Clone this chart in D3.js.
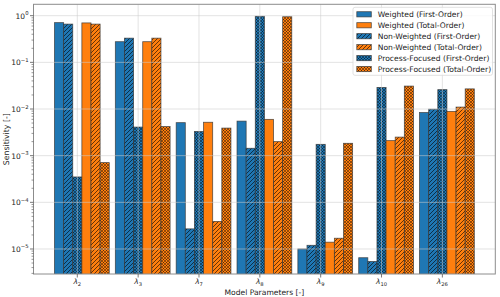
<!DOCTYPE html>
<html><head><meta charset="utf-8">
<script src="https://cdn.jsdelivr.net/npm/d3@7"></script>
<style>body{margin:0;background:#fff}svg{display:block;font-family:"DejaVu Sans",sans-serif}</style>
</head><body><svg id="c" width="500" height="297"></svg>
<script>
const categories = ["2","3","7","8","9","10","26"];
const seriesNames = ["Weighted (First-Order)","Non-Weighted (First-Order)","Process-Focused (First-Order)","Weighted (Total-Order)","Non-Weighted (Total-Order)","Process-Focused (Total-Order)"];
const legendOrder = [0,3,1,4,2,5];
const weightedFO    = [0.71, 0.277, 0.0051, 0.0055, 1.0e-5, 6.5e-6, 0.0084];
const nonWeightedFO = [0.66, 0.33, 2.7e-5, 0.00144, 1.2e-5, 5.4e-6, 0.0099];
const processFO     = [3.5e-4, 0.0041, 0.0033, 0.97, 0.00175, 0.029, 0.026];
const weightedTO    = [0.70, 0.277, 0.0052, 0.006, 1.4e-5, 0.0021, 0.0089];
const nonWeightedTO = [0.66, 0.33, 3.9e-5, 0.002, 1.7e-5, 0.0025, 0.011];
const processTO     = [7.1e-4, 0.0042, 0.0039, 0.95, 0.00184, 0.031, 0.027];
const yTicks = [0,-1,-2,-3,-4,-5];
const series = [weightedFO, nonWeightedFO, processFO, weightedTO, nonWeightedTO, processTO];
const colors = ["#1f77b4","#1f77b4","#1f77b4","#ff7f0e","#ff7f0e","#ff7f0e"];
const hatches = [null,"diag","cross",null,"diag","cross"];

const svg = d3.select("#c");
const L=33.5,R=495.3,T=4.3,B=274;
const bw=0.15;
const x = d3.scaleLinear().domain([-0.72,6.87]).range([L,R]);
const y = d3.scaleLog().domain([Math.pow(10,-5.536),Math.pow(10,0.244)]).range([B,T]);

const defs = svg.append("defs");
["#1f77b4","#ff7f0e"].forEach((c,ci)=>{
  const p1 = defs.append("pattern").attr("id","diag"+ci).attr("patternUnits","userSpaceOnUse").attr("width",4).attr("height",4);
  p1.append("rect").attr("width",4).attr("height",4).attr("fill",c);
  p1.append("path").attr("d","M-1,1 l2,-2 M0,4 l4,-4 M3,5 l2,-2").attr("stroke","#000").attr("stroke-opacity",0.75).attr("stroke-width",0.8);
  const p2 = defs.append("pattern").attr("id","cross"+ci).attr("patternUnits","userSpaceOnUse").attr("width",3).attr("height",3);
  p2.append("rect").attr("width",3).attr("height",3).attr("fill",c);
  p2.append("path").attr("d","M0,0 l3,3 M3,0 l-3,3").attr("stroke","#000").attr("stroke-opacity",0.6).attr("stroke-width",0.7);
});
function fillFor(i){const ci=i<3?0:1; return hatches[i]?`url(#${hatches[i]}${ci})`:colors[i];}

svg.append("defs").append("clipPath").attr("id","clip").append("rect").attr("x",L).attr("y",T).attr("width",R-L).attr("height",B-T);

const g = svg.append("g").attr("clip-path","url(#clip)");
series.forEach((vals,si)=>{
  g.selectAll(null).data(vals).enter().append("rect")
   .attr("x",(d,i)=>x(i+(si-2.5)*bw))
   .attr("width",x(bw)-x(0))
   .attr("y",d=>y(d))
   .attr("height",d=>B+2-y(d))
   .attr("fill",fillFor(si))
   .attr("stroke","#333").attr("stroke-opacity",0.8).attr("stroke-width",0.8);
});

// grid (on top, light)
const grid = svg.append("g");
yTicks.forEach(e=>{
  grid.append("line").attr("x1",L).attr("x2",R).attr("y1",y(Math.pow(10,e))).attr("y2",y(Math.pow(10,e)))
   .attr("stroke","#cccccc").attr("stroke-opacity",0.55).attr("stroke-width",1);
});
categories.forEach((c,i)=>{
  grid.append("line").attr("x1",x(i)).attr("x2",x(i)).attr("y1",T).attr("y2",B)
   .attr("stroke","#cccccc").attr("stroke-opacity",0.55).attr("stroke-width",1);
});

// frame
svg.append("rect").attr("x",L).attr("y",T).attr("width",R-L).attr("height",B-T).attr("fill","none").attr("stroke","#8c8c8c").attr("stroke-width",1);

// y ticks
const ya = svg.append("g");
for(let e=-6;e<=0;e++){
  for(let m=2;m<10;m++){
    const v=m*Math.pow(10,e);
    if(v<y.domain()[0]||v>y.domain()[1]) continue;
    ya.append("line").attr("x1",L-2).attr("x2",L).attr("y1",y(v)).attr("y2",y(v)).attr("stroke","#555").attr("stroke-width",0.6);
  }
}
yTicks.forEach(e=>{
  const yy=y(Math.pow(10,e));
  ya.append("line").attr("x1",L-3.5).attr("x2",L).attr("y1",yy).attr("y2",yy).attr("stroke","#555").attr("stroke-width",0.8);
  const t=ya.append("text").attr("x",L-5).attr("y",yy+3).attr("text-anchor","end").attr("font-size",7.5).attr("fill","#222");
  t.append("tspan").text("10");
  t.append("tspan").attr("dy",-3.5).attr("font-size",5.3).text(e===0?"0":"\u2212"+(-e));
});
svg.append("text").attr("transform",`translate(9,${(T+B)/2}) rotate(-90)`).attr("text-anchor","middle").attr("font-size",7.8).attr("fill","#222").text("Sensitivity [-]");

// x ticks
categories.forEach((c,i)=>{
  svg.append("line").attr("x1",x(i)).attr("x2",x(i)).attr("y1",B).attr("y2",B+3.5).attr("stroke","#555").attr("stroke-width",0.8);
  const t=svg.append("text").attr("x",x(i)).attr("y",B+10).attr("text-anchor","middle").attr("font-size",7.4).attr("fill","#222");
  t.append("tspan").attr("font-style","italic").text("\u03bb");
  t.append("tspan").attr("dy",1.5).attr("font-size",5.2).text(c);
});
svg.append("text").attr("x",(L+R)/2).attr("y",294.5).attr("text-anchor","middle").attr("font-size",7.6).attr("fill","#222").text("Model Parameters [-]");

// legend
const lg = svg.append("g");
lg.append("rect").attr("x",353).attr("y",7.3).attr("width",139.5).attr("height",68).attr("rx",2)
  .attr("fill","#fff").attr("fill-opacity",0.8).attr("stroke","#d9d9d9").attr("stroke-width",0.8);
legendOrder.forEach((si,k)=>{
  const yy=14.3+k*10.95;
  lg.append("rect").attr("x",356.8).attr("y",yy-2.6).attr("width",14.5).attr("height",5.2)
    .attr("fill",fillFor(si)).attr("stroke","#333").attr("stroke-opacity",0.8).attr("stroke-width",0.8);
  lg.append("text").attr("x",377.8).attr("y",yy+2.8).attr("font-size",7.6).attr("fill","#222").text(seriesNames[si]);
});
</script></body></html>
